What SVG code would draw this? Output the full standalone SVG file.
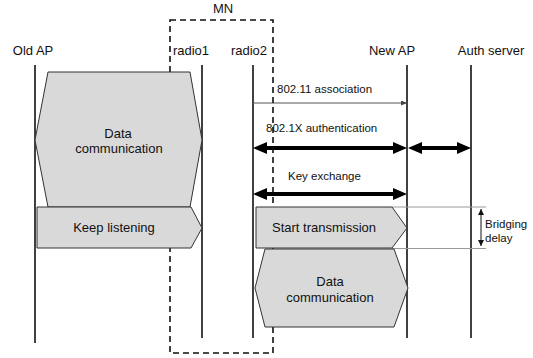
<svg xmlns="http://www.w3.org/2000/svg" width="533" height="358" viewBox="0 0 533 358">
<style>
text{font-family:"Liberation Sans",Arial,sans-serif;fill:#111}
.h{font-size:13px;text-anchor:middle}
.s{font-size:13px;text-anchor:middle}
.l{font-size:11.5px}
.life{stroke:#111;stroke-width:1.6;fill:none}
.shape{fill:#d9d9d9;stroke:#333;stroke-width:1}
.thick{stroke:#000;stroke-width:4;fill:none;marker-start:url(#big);marker-end:url(#big)}
</style>
<defs>
<marker id="big" markerUnits="userSpaceOnUse" markerWidth="14" markerHeight="12" refX="4" refY="6" orient="auto-start-reverse" viewBox="0 0 14 12">
<path d="M0,0 L14,6 L0,12 z" fill="#000"/>
</marker>
<marker id="small" markerUnits="userSpaceOnUse" markerWidth="6" markerHeight="5" refX="6" refY="2.5" orient="auto" viewBox="0 0 6 5">
<path d="M0,0 L6,2.5 L0,5 z" fill="#444"/>
</marker>
<marker id="tiny" markerUnits="userSpaceOnUse" markerWidth="6" markerHeight="6" refX="6" refY="3" orient="auto-start-reverse" viewBox="0 0 6 6">
<path d="M0,0 L6,3 L0,6 z" fill="#111"/>
</marker>
</defs>

<g id="lifelines">
<g id="old-ap"><text class="h" x="33" y="55">Old AP</text><line class="life" x1="35" y1="65" x2="35" y2="343"/></g>
<g id="radio1"><text class="h" x="191" y="55">radio1</text><line class="life" x1="202" y1="65" x2="202" y2="338"/></g>
<g id="radio2"><text class="h" x="249" y="55">radio2</text><line class="life" x1="253" y1="65" x2="253" y2="338"/></g>
<g id="new-ap"><text class="h" x="392" y="55">New AP</text><line class="life" x1="407" y1="65" x2="407" y2="338"/></g>
<g id="auth-server"><text class="h" x="491" y="55">Auth server</text><line class="life" x1="471" y1="65" x2="471" y2="338"/></g>
</g>

<g id="connectors">
<line x1="253" y1="103" x2="407" y2="103" stroke="#555" stroke-width="1.2" marker-end="url(#small)"/>
<text class="l" x="277" y="93">802.11 association</text>
<line class="thick" x1="263" y1="148" x2="397" y2="148"/>
<text class="l" x="266" y="132">802.1X authentication</text>
<line class="thick" x1="418" y1="148" x2="461" y2="148"/>
<line class="thick" x1="263" y1="194" x2="397" y2="194"/>
<text class="l" x="288" y="180">Key exchange</text>
<line x1="392" y1="207" x2="486" y2="207" stroke="#999" stroke-width="1"/>
<line x1="392" y1="248.5" x2="486" y2="248.5" stroke="#999" stroke-width="1"/>
<line x1="481" y1="209" x2="481" y2="246" stroke="#111" stroke-width="1" marker-start="url(#tiny)" marker-end="url(#tiny)"/>
<text class="l" x="485" y="228">Bridging</text>
<text class="l" x="485" y="242">delay</text>
</g>

<g id="mn">
<rect x="170" y="20" width="103" height="333" fill="none" stroke="#111" stroke-width="1.6" stroke-dasharray="6,4"/>
<text class="h" x="223" y="13">MN</text>
</g>

<g id="data-old">
<polygon class="shape" points="48,72 190,72 202,140 190,207 48,207 35,140"/>
<text class="s" x="118" y="137.5">Data</text>
<text class="s" x="119" y="153">communication</text>
</g>
<g id="keep-listening">
<polygon class="shape" points="37,207 191,207 202,228 191,248 37,248"/>
<text class="s" x="114" y="232">Keep listening</text>
</g>
<g id="start-transmission">
<polygon class="shape" points="256,207 392,207 407,228 392,248 256,248"/>
<text class="s" x="324" y="232">Start transmission</text>
</g>
<g id="data-new">
<polygon class="shape" points="265,249 394,249 408,288 394,327 265,327 255,288"/>
<text class="s" x="330" y="286">Data</text>
<text class="s" x="330" y="301.5">communication</text>
</g>
</svg>
